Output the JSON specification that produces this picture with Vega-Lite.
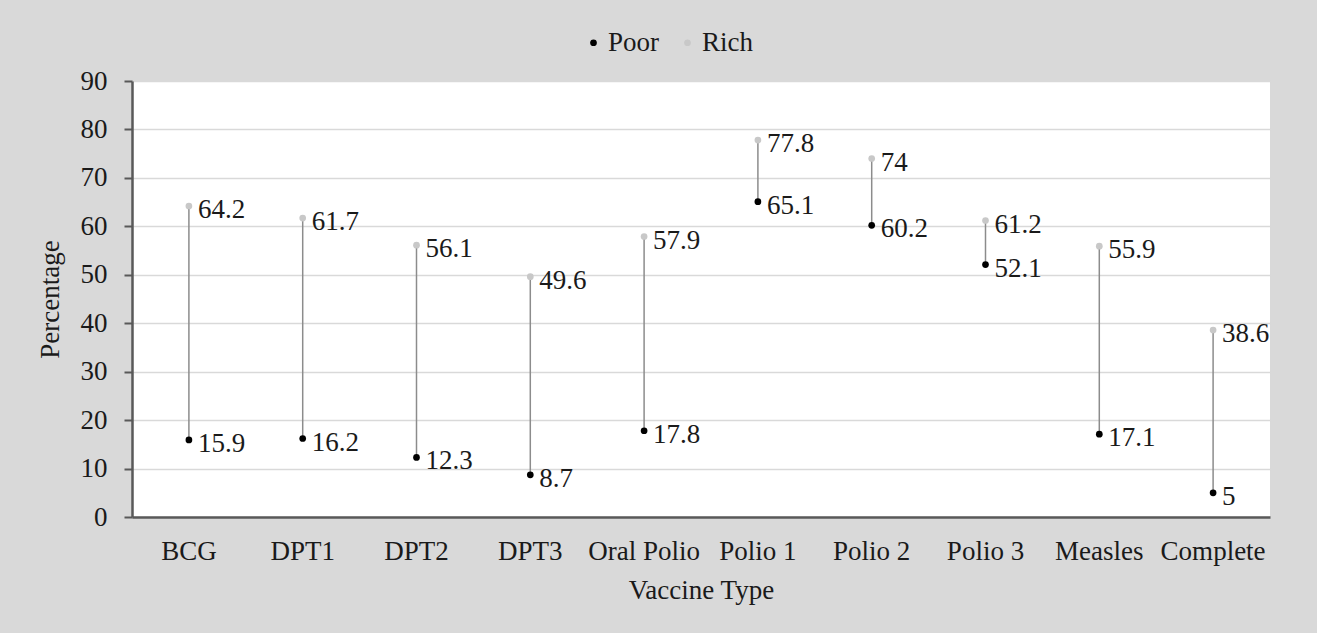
{
  "$schema": "https://vega.github.io/schema/vega-lite/v6.json",
  "autosize": {"type": "none"},
  "width": 1138,
  "height": 436,
  "padding": {"left": 132, "top": 81, "right": 47, "bottom": 116},
  "background": "#d9d9d9",
  "config": {
    "view": {"fill": "#ffffff", "stroke": null},
    "font": "Liberation Serif",
    "text": {"font": "Liberation Serif"}
  },
  "data": {
    "values": [
      {"vaccine": "BCG", "Poor": 15.9, "Rich": 64.2},
      {"vaccine": "DPT1", "Poor": 16.2, "Rich": 61.7},
      {"vaccine": "DPT2", "Poor": 12.3, "Rich": 56.1},
      {"vaccine": "DPT3", "Poor": 8.7, "Rich": 49.6},
      {"vaccine": "Oral Polio", "Poor": 17.8, "Rich": 57.9},
      {"vaccine": "Polio 1", "Poor": 65.1, "Rich": 77.8},
      {"vaccine": "Polio 2", "Poor": 60.2, "Rich": 74},
      {"vaccine": "Polio 3", "Poor": 52.1, "Rich": 61.2},
      {"vaccine": "Measles", "Poor": 17.1, "Rich": 55.9},
      {"vaccine": "Complete", "Poor": 5, "Rich": 38.6}
    ]
  },
  "encoding": {
    "x": {
      "field": "vaccine",
      "type": "nominal",
      "sort": null,
      "scale": {"paddingInner": 0, "paddingOuter": 0},
      "axis": {
        "title": "Vaccine Type",
        "labelAngle": 0,
        "labelFont": "Liberation Serif",
        "labelFontSize": 27,
        "labelColor": "#1a1a1a",
        "labelPadding": 21,
        "titleFont": "Liberation Serif",
        "titleFontSize": 27,
        "titleFontWeight": "normal",
        "titleColor": "#1a1a1a",
        "titlePadding": 13,
        "ticks": false,
        "domainColor": "#595959",
        "domainWidth": 2.5,
        "grid": false
      }
    }
  },
  "layer": [
    {
      "mark": {"type": "rule", "color": "#8c8c8c", "strokeWidth": 1.5},
      "encoding": {
        "y": {
          "field": "Poor",
          "type": "quantitative",
          "scale": {"domain": [0, 90], "nice": false},
          "axis": {
            "title": "Percentage",
            "values": [0, 10, 20, 30, 40, 50, 60, 70, 80, 90],
            "labelFont": "Liberation Serif",
            "labelFontSize": 27,
            "labelColor": "#1a1a1a",
            "labelPadding": 17,
            "tickSize": 8,
            "tickColor": "#595959",
            "tickWidth": 2,
            "domainColor": "#595959",
            "domainWidth": 2.5,
            "gridColor": "#d9d9d9",
            "gridWidth": 1.5,
            "titleFont": "Liberation Serif",
            "titleFontSize": 27,
            "titleFontWeight": "normal",
            "titleColor": "#1a1a1a",
            "titlePadding": 16
          }
        },
        "y2": {"field": "Rich"}
      }
    },
    {
      "transform": [{"fold": ["Poor", "Rich"], "as": ["group", "value"]}],
      "mark": {"type": "point", "filled": true, "opacity": 1, "size": 45},
      "encoding": {
        "y": {"field": "value", "type": "quantitative"},
        "color": {
          "field": "group",
          "type": "nominal",
          "scale": {"domain": ["Poor", "Rich"], "range": ["#000000", "#c8c8c8"]},
          "legend": {
            "title": null,
            "orient": "none",
            "direction": "horizontal",
            "legendX": 448,
            "legendY": -52,
            "labelFont": "Liberation Serif",
            "labelFontSize": 27,
            "labelColor": "#1a1a1a",
            "symbolType": "circle",
            "symbolSize": 45,
            "symbolStrokeWidth": 0,
            "columnPadding": 14,
            "labelOffset": 1
          }
        }
      }
    },
    {
      "transform": [{"fold": ["Poor", "Rich"], "as": ["group", "value"]}],
      "mark": {"type": "text", "align": "left", "baseline": "middle", "dx": 9, "dy": 4, "fontSize": 27, "color": "#1a1a1a", "font": "Liberation Serif"},
      "encoding": {
        "y": {"field": "value", "type": "quantitative"},
        "text": {"field": "value", "type": "quantitative", "format": ".1~f"}
      }
    }
  ]
}
